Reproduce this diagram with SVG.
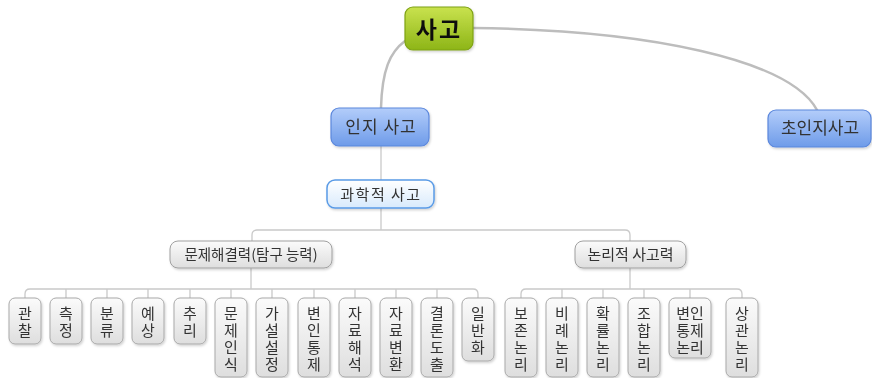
<svg xmlns="http://www.w3.org/2000/svg" width="872" height="378" viewBox="0 0 872 378">
<style>
text{font-family:"Noto Sans CJK KR","Noto Sans",sans-serif;text-anchor:middle;fill:#333}
.top{fill:none;stroke:#bdbdbd;stroke-width:2.5;stroke-linecap:round}
.ln{fill:none;stroke:#c9c9c9;stroke-width:1.3}
.leaf rect{fill:url(#gGray);stroke:#a9a9a9;stroke-width:1}
.leaf text{font-family:"Liberation Sans","Noto Sans CJK KR",sans-serif;font-size:15px}
</style>
<defs>
<linearGradient id="gGreen" x1="0" y1="0" x2="0" y2="1"><stop offset="0" stop-color="#c9e24e"/><stop offset="1" stop-color="#8db517"/></linearGradient>
<linearGradient id="gBlue" x1="0" y1="0" x2="0" y2="1"><stop offset="0" stop-color="#b3cdfa"/><stop offset="1" stop-color="#6e9be9"/></linearGradient>
<linearGradient id="gLight" x1="0" y1="0" x2="0" y2="1"><stop offset="0" stop-color="#ffffff"/><stop offset="1" stop-color="#d8eafc"/></linearGradient>
<linearGradient id="gGray" x1="0" y1="0" x2="0" y2="1"><stop offset="0" stop-color="#fbfbfb"/><stop offset="1" stop-color="#dedede"/></linearGradient>
<filter id="sh" x="-20%" y="-20%" width="140%" height="150%"><feDropShadow dx="1" dy="1.5" stdDeviation="1" flood-color="#000" flood-opacity="0.18"/></filter>
</defs>
<g id="connectors">
<path class="top" d="M405,41 C390,52 382,70 381,108"/>
<path class="top" d="M473,28 C650,30 790,60 817,110"/>
<path class="ln" d="M381,146 V230"/>
<path class="ln" d="M252,241 V235 Q252,230 257,230 H625 Q630,230 630,235 V241"/>
<path class="ln" d="M251,268 V289"/>
<path class="ln" d="M25,298 V294 Q25,289 30,289 H473 Q478,289 478,294 V298"/>
<path class="ln" d="M66,289 V298 M107,289 V298 M148,289 V298 M190,289 V298 M231,289 V298 M272,289 V298 M314,289 V298 M355,289 V298 M396,289 V298 M437,289 V298"/>
<path class="ln" d="M630,268 V289"/>
<path class="ln" d="M521,298 V294 Q521,289 526,289 H737 Q742,289 742,294 V298"/>
<path class="ln" d="M562,289 V298 M603,289 V298 M644,289 V298 M690,289 V298"/>
</g>
<g id="n-sago" filter="url(#sh)"><rect x="405" y="7" width="68" height="43" rx="8" fill="url(#gGreen)" stroke="#7fa215" stroke-width="1.2"/><text x="439" y="38" style="font-size:23px;font-weight:bold;fill:#111;letter-spacing:2px">사고</text></g>
<g id="n-inji" filter="url(#sh)"><rect x="331" y="108" width="98" height="38" rx="8" fill="url(#gBlue)" stroke="#5b87dc" stroke-width="1.2"/><text x="381" y="133" style="font-size:17px;letter-spacing:1px">인지 사고</text></g>
<g id="n-choinji" filter="url(#sh)"><rect x="768" y="110" width="103" height="37" rx="8" fill="url(#gBlue)" stroke="#5b87dc" stroke-width="1.2"/><text x="820" y="134" style="font-size:17px">초인지사고</text></g>
<g id="n-gwahak" filter="url(#sh)"><rect x="327" y="180" width="107" height="28" rx="8" fill="url(#gLight)" stroke="#5a9be6" stroke-width="1.5"/><text x="381" y="199.5" style="font-size:15px;letter-spacing:1.5px">과학적 사고</text></g>
<g id="n-munje" filter="url(#sh)"><rect x="170" y="241" width="162" height="27" rx="8" fill="url(#gGray)" stroke="#a0a0a0"/><text x="251" y="260" style="font-size:14.5px">문제해결력(탐구 능력)</text></g>
<g id="n-nonri" filter="url(#sh)"><rect x="575" y="241" width="111" height="27" rx="8" fill="url(#gGray)" stroke="#a0a0a0"/><text x="630.5" y="260" style="font-size:15px">논리적 사고력</text></g>
<g id="l1" class="leaf" filter="url(#sh)"><rect x="9" y="298" width="32" height="46" rx="6"/><text x="25" y="318.5">관</text><text x="25" y="335.5">찰</text></g>
<g id="l2" class="leaf" filter="url(#sh)"><rect x="50" y="298" width="32" height="46" rx="6"/><text x="66" y="318.5">측</text><text x="66" y="335.5">정</text></g>
<g id="l3" class="leaf" filter="url(#sh)"><rect x="91" y="298" width="32" height="46" rx="6"/><text x="107" y="318.5">분</text><text x="107" y="335.5">류</text></g>
<g id="l4" class="leaf" filter="url(#sh)"><rect x="132" y="298" width="32" height="46" rx="6"/><text x="148" y="318.5">예</text><text x="148" y="335.5">상</text></g>
<g id="l5" class="leaf" filter="url(#sh)"><rect x="174" y="298" width="32" height="46" rx="6"/><text x="190" y="318.5">추</text><text x="190" y="335.5">리</text></g>
<g id="l6" class="leaf" filter="url(#sh)"><rect x="215" y="298" width="32" height="79" rx="6"/><text x="231" y="318.5">문</text><text x="231" y="335.5">제</text><text x="231" y="352.5">인</text><text x="231" y="369.5">식</text></g>
<g id="l7" class="leaf" filter="url(#sh)"><rect x="256" y="298" width="32" height="79" rx="6"/><text x="272" y="318.5">가</text><text x="272" y="335.5">설</text><text x="272" y="352.5">설</text><text x="272" y="369.5">정</text></g>
<g id="l8" class="leaf" filter="url(#sh)"><rect x="298" y="298" width="32" height="79" rx="6"/><text x="314" y="318.5">변</text><text x="314" y="335.5">인</text><text x="314" y="352.5">통</text><text x="314" y="369.5">제</text></g>
<g id="l9" class="leaf" filter="url(#sh)"><rect x="339" y="298" width="32" height="79" rx="6"/><text x="355" y="318.5">자</text><text x="355" y="335.5">료</text><text x="355" y="352.5">해</text><text x="355" y="369.5">석</text></g>
<g id="l10" class="leaf" filter="url(#sh)"><rect x="380" y="298" width="32" height="79" rx="6"/><text x="396" y="318.5">자</text><text x="396" y="335.5">료</text><text x="396" y="352.5">변</text><text x="396" y="369.5">환</text></g>
<g id="l11" class="leaf" filter="url(#sh)"><rect x="421" y="298" width="32" height="79" rx="6"/><text x="437" y="318.5">결</text><text x="437" y="335.5">론</text><text x="437" y="352.5">도</text><text x="437" y="369.5">출</text></g>
<g id="l12" class="leaf" filter="url(#sh)"><rect x="462" y="298" width="32" height="63" rx="6"/><text x="478" y="318.5">일</text><text x="478" y="335.5">반</text><text x="478" y="352.5">화</text></g>
<g id="r1" class="leaf" filter="url(#sh)"><rect x="505" y="298" width="32" height="79" rx="6"/><text x="521" y="318.5">보</text><text x="521" y="335.5">존</text><text x="521" y="352.5">논</text><text x="521" y="369.5">리</text></g>
<g id="r2" class="leaf" filter="url(#sh)"><rect x="546" y="298" width="32" height="79" rx="6"/><text x="562" y="318.5">비</text><text x="562" y="335.5">례</text><text x="562" y="352.5">논</text><text x="562" y="369.5">리</text></g>
<g id="r3" class="leaf" filter="url(#sh)"><rect x="587" y="298" width="32" height="79" rx="6"/><text x="603" y="318.5">확</text><text x="603" y="335.5">률</text><text x="603" y="352.5">논</text><text x="603" y="369.5">리</text></g>
<g id="r4" class="leaf" filter="url(#sh)"><rect x="628" y="298" width="32" height="79" rx="6"/><text x="644" y="318.5">조</text><text x="644" y="335.5">합</text><text x="644" y="352.5">논</text><text x="644" y="369.5">리</text></g>
<g id="r5" class="leaf" filter="url(#sh)"><rect x="669" y="298" width="42" height="60" rx="6"/><text x="690" y="318.5">변인</text><text x="690" y="335.5">통제</text><text x="690" y="352.5">논리</text></g>
<g id="r6" class="leaf" filter="url(#sh)"><rect x="726" y="298" width="32" height="79" rx="6"/><text x="742" y="318.5">상</text><text x="742" y="335.5">관</text><text x="742" y="352.5">논</text><text x="742" y="369.5">리</text></g>
</svg>
